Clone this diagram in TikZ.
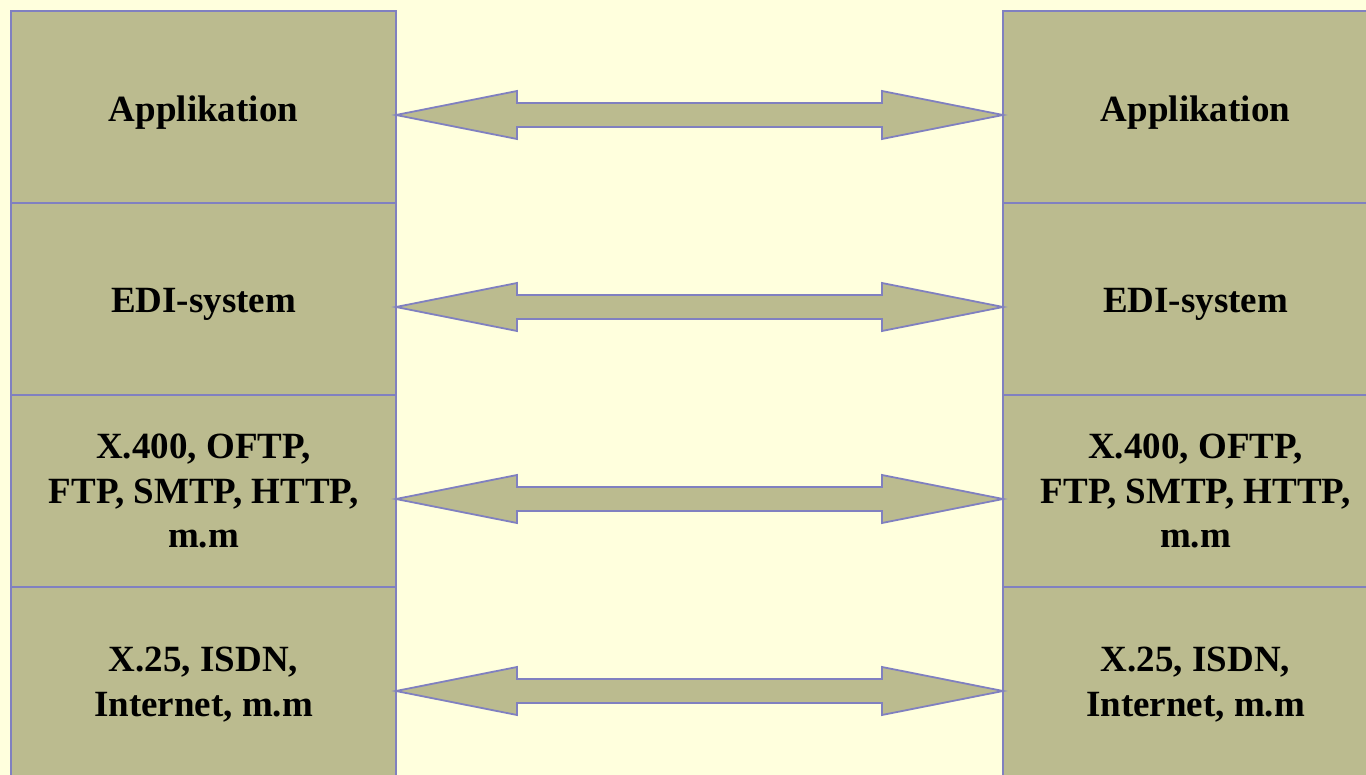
\documentclass[tikz,border=0pt]{standalone}
\usepackage{fontspec}
\setmainfont{Liberation Serif}
\usetikzlibrary{calc}
\definecolor{bgyellow}{RGB}{255,255,221}
\definecolor{boxfill}{RGB}{187,187,143}
\definecolor{boxline}{RGB}{128,128,192}
\tikzset{
  layerbox/.style={draw=boxline, line width=1.8pt, fill=boxfill, anchor=north west,
    minimum width=385pt, minimum height=192pt, inner sep=0pt, outer sep=0pt},
  layertext/.style={anchor=north, inner sep=0pt, outer sep=0pt, align=center,
    font=\fontsize{37}{44.5}\selectfont\bfseries},
  dblarrow/.style={draw=boxline, line width=1.8pt, fill=boxfill, line join=miter}
}
\begin{document}
\begin{tikzpicture}[x=1pt,y=-1pt]
\useasboundingbox (0,0) rectangle (1366,775);
\fill[bgyellow] (0,0) rectangle (1366,775);
\foreach \s/\x in {L/11,R/1003}{
  \node[layerbox] (\s1) at (\x,11) {};
  \node[layerbox] (\s2) at (\x,203) {};
  \node[layerbox] (\s3) at (\x,395) {};
  \node[layerbox] (\s4) at (\x,587) {};
  \node[layertext] (\s1t) at ($(\s1.north)+(0,85)$) {Applikation};
  \node[layertext] (\s2t) at ($(\s2.north)+(0,85)$) {EDI-system};
  \node[layertext] (\s3t) at ($(\s3.north)+(0,39)$) {X.400, OFTP,\\FTP, SMTP, HTTP,\\m.m};
  \node[layertext] (\s4t) at ($(\s4.north)+(0,60)$) {X.25, ISDN,\\Internet, m.m};
}
\foreach \i in {1,2,3,4}{
  \coordinate (a\i) at ($(L\i.east)+(0,8)$);
  \coordinate (b\i) at ($(R\i.west)+(0,8)$);
  \draw[dblarrow] (a\i) -- ++(121,-24) -- ++(0,12) -- ($(b\i)+(-121,-12)$) -- ++(0,-12)
    -- (b\i) -- ++(-121,24) -- ++(0,-12) -- ($(a\i)+(121,12)$) -- ++(0,12) -- cycle;
}
\end{tikzpicture}
\end{document}
